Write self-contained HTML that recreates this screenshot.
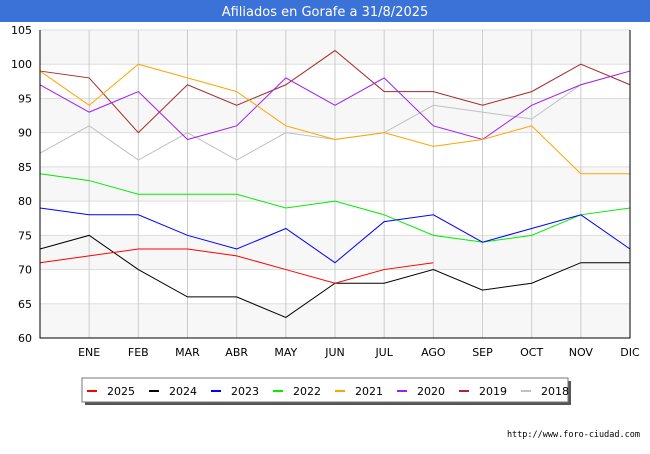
<!DOCTYPE html>
<html><head><meta charset="utf-8"><style>
body{margin:0;background:#fff;width:650px;height:450px;overflow:hidden;font-family:"DejaVu Sans","Liberation Sans",sans-serif}
</style></head><body>
<svg width="650" height="450" xmlns="http://www.w3.org/2000/svg">
<rect x="0" y="0" width="650" height="22" fill="#3b72d8"/>
<text x="325" y="16" text-anchor="middle" fill="#fff" font-size="13">Afiliados en Gorafe a 31/8/2025</text>
<g id="bands"></g><g id="grid"></g><g id="series"></g><g id="axes"></g>
<text x="640" y="437" text-anchor="end" font-size="8.5" font-family="DejaVu Sans Mono, Liberation Mono, monospace" fill="#000">http://www.foro-ciudad.com</text>
<rect x="85" y="381" width="486" height="24" fill="#555"/>
<rect x="82" y="378" width="486" height="24" fill="#fff" stroke="#777"/>
<g id="legend"></g>
</svg>
<script>
const months=["","ENE","FEB","MAR","ABR","MAY","JUN","JUL","AGO","SEP","OCT","NOV","DIC"];
const yTicks=[60,65,70,75,80,85,90,95,100,105];
const seriesNames=["2025","2024","2023","2022","2021","2020","2019","2018"];
const seriesColors=["#ff0000","#000000","#0000ff","#00ee00","#ffa500","#a020f0","#a52a2a","#c0c0c0"];
const s2025=[71,72,73,73,72,70,68,70,71];
const s2024=[73,75,70,66,66,63,68,68,70,67,68,71,71];
const s2023=[79,78,78,75,73,76,71,77,78,74,76,78,73];
const s2022=[84,83,81,81,81,79,80,78,75,74,75,78,79];
const s2021=[99,94,100,98,96,91,89,90,88,89,91,84,84];
const s2020=[97,93,96,89,91,98,94,98,91,89,94,97,99];
const s2019=[99,98,90,97,94,97,102,96,96,94,96,100,97];
const s2018=[87,91,86,90,86,90,89,90,94,93,92,97,99];
const allSeries=[s2025,s2024,s2023,s2022,s2021,s2020,s2019,s2018];
const NS="http://www.w3.org/2000/svg";
const L=40,R=630,T=30,B=338;
const x=i=>L+i*(R-L)/(months.length-1);
const y=v=>B-(v-60)*(B-T)/45;
function mk(tag,attrs,parent){const e=document.createElementNS(NS,tag);for(const k in attrs)e.setAttribute(k,attrs[k]);document.getElementById(parent)?document.getElementById(parent).appendChild(e):parent.appendChild(e);return e;}
for(let v=60;v<105;v+=10){const e=mk('rect',{x:L,y:y(v+5),width:R-L,height:y(v)-y(v+5),fill:'#f7f7f7'},'bands');

}
yTicks.forEach(v=>{const e=mk('line',{x1:L,x2:R,y1:y(v),y2:y(v),stroke:'#ddd'},'grid');


const t=mk('text',{x:L-8,y:y(v)+4,'text-anchor':'end','font-size':11},'axes');t.textContent=v;

});
months.forEach((m,i)=>{const e=mk('line',{x1:x(i),x2:x(i),y1:T,y2:B,stroke:'#ccc'},'grid');


const t=mk('text',{x:x(i),y:B+18,'text-anchor':'middle','font-size':11},'axes');t.textContent=m;

});
for(let k=allSeries.length-1;k>=0;k--){const d=allSeries[k];
const p=mk('polyline',{points:d.map((v,i)=>x(i)+','+y(v)).join(' '),fill:'none',stroke:seriesColors[k],'stroke-width':1},'series');

}
const ax=mk('path',{d:`M${L},${T} L${L},${B} L${R},${B} L${R},${T}`,fill:'none',stroke:'#000','stroke-width':1},'axes');


seriesNames.forEach((n,k)=>{const g=mk('g',{},'legend');


const bx=87+k*62;
mk('line',{x1:bx,x2:bx+10,y1:391,y2:391,stroke:seriesColors[k],'stroke-width':2},g);
const t=mk('text',{x:bx+20,y:395,'font-size':11},g);t.textContent=n;});
</script>
</body></html>
